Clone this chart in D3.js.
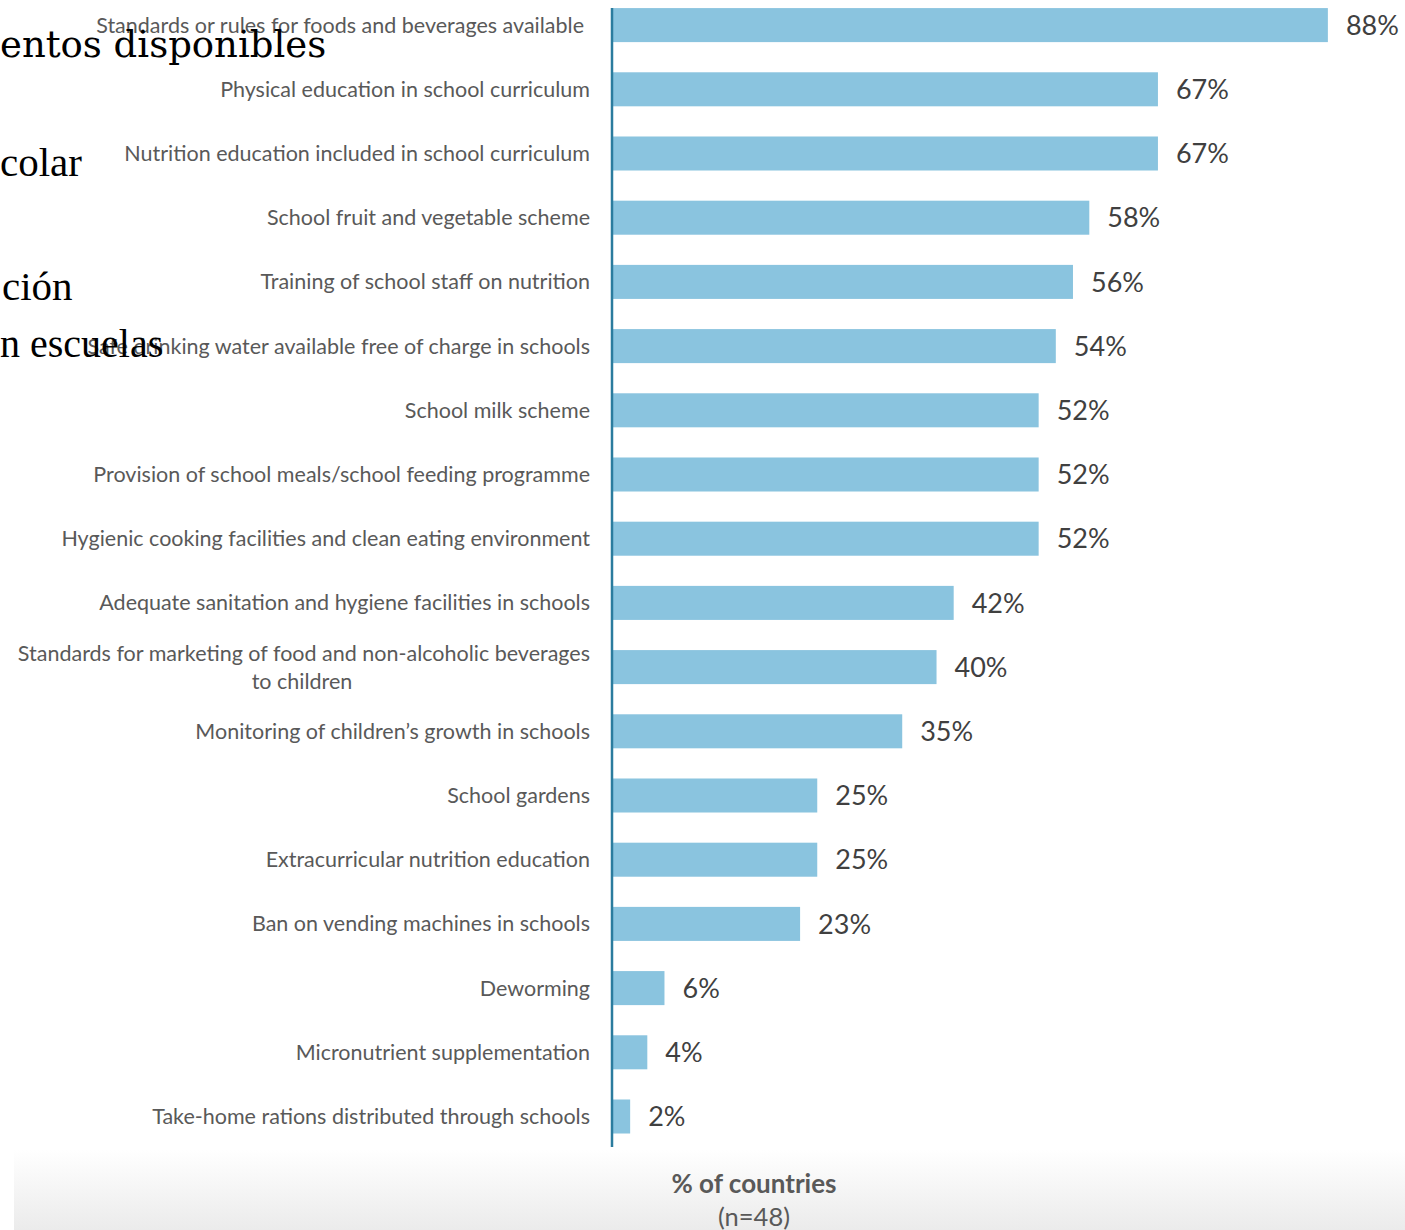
<!DOCTYPE html>
<html><head><meta charset="utf-8">
<script src="https://cdn.jsdelivr.net/npm/d3@7"></script>
<style>
html,body{margin:0;padding:0;background:#fff;overflow:hidden;}
svg{display:block;}
</style></head>
<body>
<script>
const categories = [
  "Standards or rules for foods and beverages available",
  "Physical education in school curriculum",
  "Nutrition education included in school curriculum",
  "School fruit and vegetable scheme",
  "Training of school staff on nutrition",
  "Safe drinking water available free of charge in schools",
  "School milk scheme",
  "Provision of school meals/school feeding programme",
  "Hygienic cooking facilities and clean eating environment",
  "Adequate sanitation and hygiene facilities in schools",
  "Standards for marketing of food and non-alcoholic beverages|to children",
  "Monitoring of children\u2019s growth in schools",
  "School gardens",
  "Extracurricular nutrition education",
  "Ban on vending machines in schools",
  "Deworming",
  "Micronutrient supplementation",
  "Take-home rations distributed through schools"
];
const values = [87.5, 66.7, 66.7, 58.3, 56.3, 54.2, 52.1, 52.1, 52.1, 41.7, 39.6, 35.4, 25.0, 25.0, 22.9, 6.3, 4.2, 2.1];
const axisTitle = ["% of countries", "(n=48)"];
const overlayTexts = [
  {text: "entos disponibles", font: "DejaVu Serif", size: 37, y: 57, x: 0},
  {text: "colar", font: "Liberation Serif", size: 41, y: 176, x: 0},
  {text: "ción", font: "Liberation Serif", size: 41, y: 300, x: 2},
  {text: "n escuelas", font: "Liberation Serif", size: 40, y: 357, x: 0}
];

const W = 1405, H = 1230;
const svg = d3.select("body").append("svg").attr("width", W).attr("height", H);

// bottom gradient band
const defs = svg.append("defs");
const grad = defs.append("linearGradient").attr("id","bg").attr("x1",0).attr("y1",0).attr("x2",0).attr("y2",1);
grad.append("stop").attr("offset","0%").attr("stop-color","#ffffff");
grad.append("stop").attr("offset","100%").attr("stop-color","#ebebeb");
svg.append("rect").attr("x",14).attr("y",1150).attr("width",W-14).attr("height",80).attr("fill","url(#bg)");

const x0 = 613;
const x = d3.scaleLinear().domain([0, 100]).range([x0, x0 + 817]);
const y = d3.scaleBand().domain(d3.range(categories.length)).range([-7, 1148.6]).paddingInner(0.47).paddingOuter(0.235);

const labelFont = "Lato, 'Open Sans', sans-serif";

// bars
svg.append("g").selectAll("rect").data(values).join("rect")
  .attr("x", x(0))
  .attr("y", (d,i) => y(i))
  .attr("width", d => x(d) - x(0))
  .attr("height", y.bandwidth())
  .attr("fill", "#8ac4df");

// value labels
svg.append("g").selectAll("text").data(values).join("text")
  .attr("x", d => x(d) + 18)
  .attr("y", (d,i) => y(i) + y.bandwidth()/2)
  .attr("dy", "0.36em")
  .attr("font-family", labelFont)
  .attr("font-size", 27)
  .attr("fill", "#404040")
  .text(d => d3.format(".0f")(d) + "%");

// axis line
svg.append("line").attr("x1", x0 - 1).attr("x2", x0 - 1).attr("y1", 8).attr("y2", 1147)
  .attr("stroke", "#2b7c9e").attr("stroke-width", 2.5);

const lab = svg.append("g");
categories.forEach((c, i) => {
  const lines = c.split("|");
  const cy = y(i) + y.bandwidth()/2;
  const t = lab.append("text")
    .attr("font-family", labelFont).attr("font-size", 21.5).attr("fill", "#595959");
  if (lines.length === 1) {
    t.attr("x", i === 0 ? 584 : 590).attr("y", cy).attr("dy", "0.35em").attr("text-anchor", "end").text(lines[0]);
  } else {
    t.attr("text-anchor", "end");
    t.append("tspan").attr("x", 590).attr("y", cy - 14).attr("dy", "0.35em").text(lines[0]);
    t.append("tspan").attr("x", 302).attr("y", cy + 14).attr("dy", "0.35em").attr("text-anchor", "middle").text(lines[1]);
  }
});

// axis title
svg.append("text").attr("x", 754).attr("y", 1184).attr("dy", "0.35em").attr("text-anchor", "middle")
  .attr("font-family", labelFont).attr("font-weight", "bold").attr("font-size", 26).attr("fill", "#595959")
  .text(axisTitle[0]);
svg.append("text").attr("x", 754).attr("y", 1217).attr("dy", "0.35em").attr("text-anchor", "middle")
  .attr("font-family", labelFont).attr("font-size", 25.5).attr("fill", "#595959")
  .text(axisTitle[1]);

// overlay texts
svg.append("g").selectAll("text").data(overlayTexts).join("text")
  .attr("x", d => d.x).attr("y", d => d.y)
  .attr("font-family", d => d.font).attr("font-size", d => d.size).attr("fill", "#000")
  .text(d => d.text);
</script>
</body></html>
